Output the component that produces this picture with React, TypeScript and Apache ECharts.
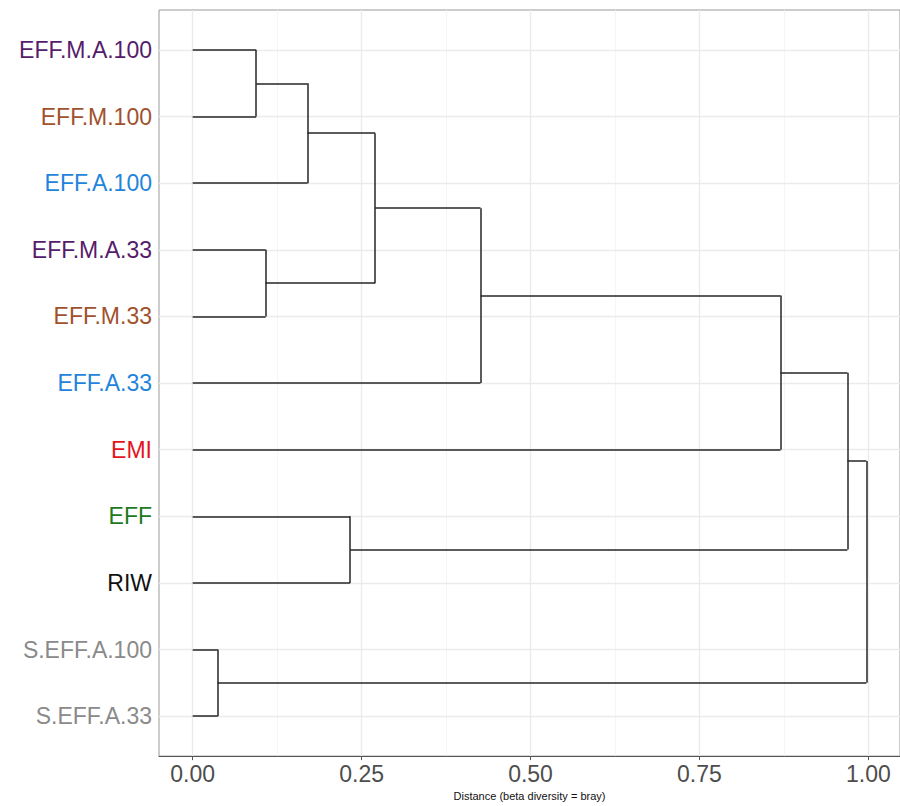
import React, { useEffect, useRef } from "react";
import * as echarts from "echarts";

// Leaves, top to bottom
const leafLabels = [
  "EFF.M.A.100",
  "EFF.M.100",
  "EFF.A.100",
  "EFF.M.A.33",
  "EFF.M.33",
  "EFF.A.33",
  "EMI",
  "EFF",
  "RIW",
  "S.EFF.A.100",
  "S.EFF.A.33",
];
const leafColors = [
  "#561c6b",
  "#a0522d",
  "#1f84dc",
  "#561c6b",
  "#a0522d",
  "#1f84dc",
  "#e4141c",
  "#1d7a1d",
  "#111111",
  "#8a8a8a",
  "#8a8a8a",
];

// hclust-style merges: negative = leaf (1-based), positive = earlier merge (1-based)
const mergeLeft = [-1, -4, -10, 1, -8, 4, 6, 7, 8, 9];
const mergeRight = [-2, -5, -11, -3, -9, 2, -6, -7, 5, 3];
const mergeHeight = [0.094, 0.108, 0.037, 0.17, 0.233, 0.27, 0.426, 0.87, 0.969, 0.997];

const xTicks = [0, 0.25, 0.5, 0.75, 1];
const xMinorTicks = [0.125, 0.375, 0.625, 0.875];
const xTitle = "Distance (beta diversity = bray)";

const FONT = "'Liberation Sans', Arial, Helvetica, sans-serif";

export default function App() {
  const ref = useRef<HTMLDivElement>(null);

  useEffect(() => {
    if (!ref.current) return;
    const chart = echarts.init(ref.current, undefined, { renderer: "svg" });

    const leafPos = leafLabels.map((_, i) => i + 1);
    const yMin = 0.4;
    const yMax = leafLabels.length + 0.6;
    const top = Math.max(...mergeHeight);
    const xMin = -0.05 * top;
    const xMax = top * 1.05;

    const nodeY: number[] = [];
    const pos = (id: number) =>
      id < 0 ? { x: 0, y: leafPos[-id - 1] } : { x: mergeHeight[id - 1], y: nodeY[id - 1] };

    const segs: { coords: number[][] }[] = [];
    for (let i = 0; i < mergeHeight.length; i++) {
      const l = pos(mergeLeft[i]);
      const r = pos(mergeRight[i]);
      const h = mergeHeight[i];
      nodeY[i] = (l.y + r.y) / 2;
      segs.push({ coords: [[l.x, l.y], [h, l.y]] });
      segs.push({ coords: [[r.x, r.y], [h, r.y]] });
      segs.push({ coords: [[h, l.y], [h, r.y]] });
    }

    const majorGrid: { coords: number[][] }[] = [];
    xTicks.forEach((v) => majorGrid.push({ coords: [[v, yMin], [v, yMax]] }));
    leafPos.forEach((v) => majorGrid.push({ coords: [[xMin, v], [xMax, v]] }));
    const minorGrid = xMinorTicks.map((v) => ({ coords: [[v, yMin], [v, yMax]] }));

    const rich: Record<string, any> = {};
    leafColors.forEach((c, i) => {
      rich["c" + i] = { color: c, fontSize: 23, fontFamily: FONT };
    });

    chart.setOption({
      animation: false,
      backgroundColor: "#ffffff",
      grid: {
        left: 159,
        top: 10,
        width: 745,
        height: 751,
        show: true,
        borderColor: "#9a9a9a",
        borderWidth: 1,
        backgroundColor: "transparent",
      },
      xAxis: {
        type: "value",
        min: xMin,
        max: xMax,
        name: xTitle,
        nameLocation: "middle",
        nameGap: 30,
        nameTextStyle: { fontSize: 11, color: "#111", fontFamily: FONT },
        axisLine: { show: true, lineStyle: { color: "#555", width: 1 } },
        axisTick: { show: true, length: 4, customValues: xTicks, lineStyle: { color: "#555" } },
        axisLabel: {
          customValues: xTicks,
          formatter: (v: number) => v.toFixed(2),
          fontSize: 23,
          color: "#4d4d4d",
          fontFamily: FONT,
          margin: 6,
        },
        splitLine: { show: false },
      },
      yAxis: {
        type: "value",
        inverse: true,
        min: yMin,
        max: yMax,
        axisLine: { show: true, lineStyle: { color: "#9a9a9a", width: 1 } },
        axisTick: { show: true, length: 4, customValues: leafPos, lineStyle: { color: "#555" } },
        axisLabel: {
          customValues: leafPos,
          formatter: (v: number) => {
            const i = Math.round(v) - 1;
            return i >= 0 && i < leafLabels.length ? `{c${i}|${leafLabels[i]}}` : "";
          },
          rich,
          fontSize: 23,
          fontFamily: FONT,
          margin: 7,
        },
        splitLine: { show: false },
      },
      series: [
        {
          type: "lines",
          coordinateSystem: "cartesian2d",
          silent: true,
          z: 1,
          lineStyle: { color: "#f3f3f3", width: 0.8, opacity: 1 },
          data: minorGrid,
        },
        {
          type: "lines",
          coordinateSystem: "cartesian2d",
          silent: true,
          z: 2,
          lineStyle: { color: "#ebebeb", width: 1.4, opacity: 1 },
          data: majorGrid,
        },
        {
          type: "lines",
          coordinateSystem: "cartesian2d",
          silent: true,
          z: 3,
          lineStyle: { color: "#262626", width: 1.5, opacity: 1 },
          data: segs,
        },
      ],
    });

    return () => chart.dispose();
  }, []);

  return (
    <div
      ref={ref}
      style={{ position: "fixed", left: 0, top: 0, width: 900, height: 806, background: "#fff" }}
    />
  );
}
